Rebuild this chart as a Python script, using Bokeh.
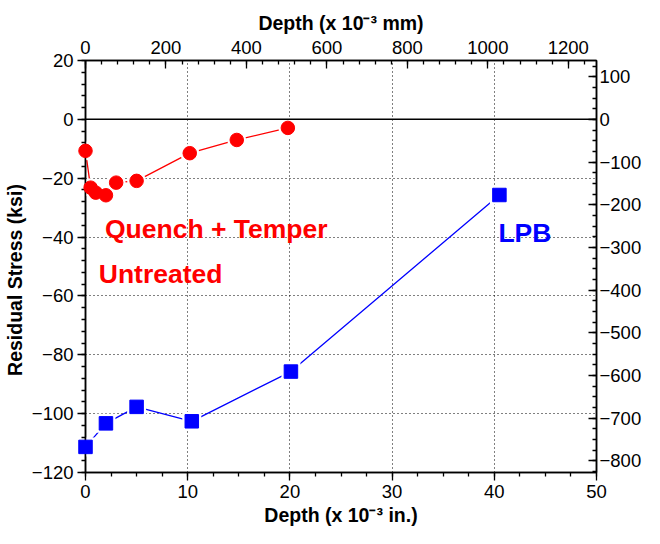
from bokeh.plotting import figure
from bokeh.models import Range1d, LinearAxis, FixedTicker, Span, Label
from bokeh.embed import file_html
from bokeh.resources import INLINE

# ---- data (depth in 1e-3 in., stress in ksi) ----
qt_depth = [0, 0.5, 1, 2, 3, 5, 10.2, 14.8, 19.8]
qt_stress = [-10.7, -23.2, -24.9, -25.8, -21.5, -20.9, -11.5, -7.0, -2.9]
lpb_depth = [0, 2, 5, 10.4, 20.1, 40.5]
lpb_stress = [-111.3, -103.3, -97.7, -102.6, -85.7, -25.7]

# ---- axes ticks ----
x_ticks = [0, 10, 20, 30, 40, 50]
y_ticks = [-120, -100, -80, -60, -40, -20, 0, 20]
mm_ticks = [0, 200, 400, 600, 800, 1000, 1200]
mpa_ticks = [-800, -700, -600, -500, -400, -300, -200, -100, 0, 100]
x_grid = [10, 20, 30, 40]
y_grid = [-100, -80, -60, -40, -20]

MM_PER_IN = 25.4
MPA_PER_KSI = 6.895
X_MIN, X_MAX = 0, 50
Y_MIN, Y_MAX = -120, 20

FONT = "Liberation Sans"
TICK_SIZE = "18.5px"
TITLE_SIZE = "19.5px"


def minor(start, stop, step):
    out = []
    v = start
    while v <= stop + 1e-9:
        out.append(round(v, 6))
        v += step
    return out


p = figure(width=644, height=536,
           x_range=Range1d(X_MIN, X_MAX), y_range=Range1d(Y_MIN, Y_MAX),
           output_backend="svg", toolbar_location=None,
           min_border_left=85, min_border_right=43,
           min_border_top=60, min_border_bottom=64)
p.styles = {"margin-bottom": "-8px"}
p.background_fill_color = "white"
p.border_fill_color = "white"
p.outline_line_color = "black"
p.outline_line_width = 1.5

p.extra_x_ranges = {"mm": Range1d(X_MIN * MM_PER_IN, X_MAX * MM_PER_IN)}
p.extra_y_ranges = {"mpa": Range1d(Y_MIN * MPA_PER_KSI, Y_MAX * MPA_PER_KSI)}


def style_axis(ax, inward, tick_size=TICK_SIZE):
    ax.axis_line_color = "black"
    ax.axis_line_width = 1.5
    ax.major_tick_line_color = "black"
    ax.minor_tick_line_color = "black"
    ax.major_tick_line_width = 1.3
    ax.minor_tick_line_width = 1.3
    if inward:
        ax.major_tick_in, ax.major_tick_out = 8, 0
        ax.minor_tick_in, ax.minor_tick_out = 4, 0
    else:
        ax.major_tick_in, ax.major_tick_out = 0, 8
        ax.minor_tick_in, ax.minor_tick_out = 0, 4
    ax.major_label_text_font = FONT
    ax.major_label_text_font_size = tick_size
    ax.major_label_text_color = "black"
    ax.axis_label_text_font = FONT
    ax.axis_label_text_font_size = TITLE_SIZE
    ax.axis_label_text_font_style = "bold"
    ax.axis_label_text_color = "black"


# bottom axis (inches)
xa = p.xaxis[0]
xa.ticker = FixedTicker(ticks=x_ticks, minor_ticks=minor(0, 50, 2.5))
xa.axis_label = "Depth (x 10\u207b\u00b3 in.)"
style_axis(xa, inward=False)
xa.major_label_standoff = 4
xa.axis_label_standoff = 3

# left axis (ksi); trailing no-break spaces nudge the rotated title down
ya = p.yaxis[0]
ya.ticker = FixedTicker(ticks=y_ticks, minor_ticks=minor(-120, 20, 4))
ya.major_label_overrides = {t: "\u2212" + str(abs(t)) for t in y_ticks if t < 0}
ya.axis_label = "Residual Stress (ksi)" + "\u00a0" * 5
style_axis(ya, inward=False)
ya.major_label_standoff = 4
ya.axis_label_standoff = 3

# top axis (mm)
top = LinearAxis(x_range_name="mm",
                 ticker=FixedTicker(ticks=mm_ticks, minor_ticks=minor(0, 1270, 40)),
                 axis_label="Depth (x 10\u207b\u00b3 mm)")
style_axis(top, inward=True)
top.major_label_standoff = 7
top.axis_label_standoff = 4
p.add_layout(top, "above")

# right axis (MPa)
right = LinearAxis(y_range_name="mpa",
                   ticker=FixedTicker(ticks=mpa_ticks, minor_ticks=minor(-825, 125, 25)))
style_axis(right, inward=True)
right.major_label_standoff = 3
p.add_layout(right, "right")

# grids
p.xgrid.ticker = FixedTicker(ticks=x_grid)
p.ygrid.ticker = FixedTicker(ticks=y_grid)
for g in (p.xgrid[0], p.ygrid[0]):
    g.grid_line_color = "black"
    g.grid_line_dash = "1 3"
    g.grid_line_width = 1

p.add_layout(Span(location=0, dimension="width", line_color="black", line_width=1.5))

# series: lines, white gap masks, markers
p.line(qt_depth, qt_stress, line_color="red", line_width=1.3)
p.line(lpb_depth, lpb_stress, line_color="blue", line_width=1.3)
p.scatter(qt_depth, qt_stress, marker="circle", size=19, fill_color="white", line_color=None)
p.scatter(lpb_depth, lpb_stress, marker="square", size=19, fill_color="white", line_color=None)
r1 = p.scatter(qt_depth, qt_stress, marker="circle", size=13.5, fill_color="red", line_color="red")
r2 = p.scatter(lpb_depth, lpb_stress, marker="square", size=13.5, fill_color="blue", line_color="blue")
r1.level = "overlay"
r2.level = "overlay"

# labels
for txt, x, y, col in [("Quench + Temper", 1.9, -37.4, "red"),
                       ("Untreated", 1.3, -52.6, "red"),
                       ("LPB", 40.4, -38.5, "blue")]:
    p.add_layout(Label(x=x, y=y, text=txt, text_color=col, text_font=FONT,
                       text_font_size="26.5px", text_font_style="bold",
                       text_align="left", text_baseline="alphabetic"))

open("out.html", "w").write(file_html(p, INLINE))
